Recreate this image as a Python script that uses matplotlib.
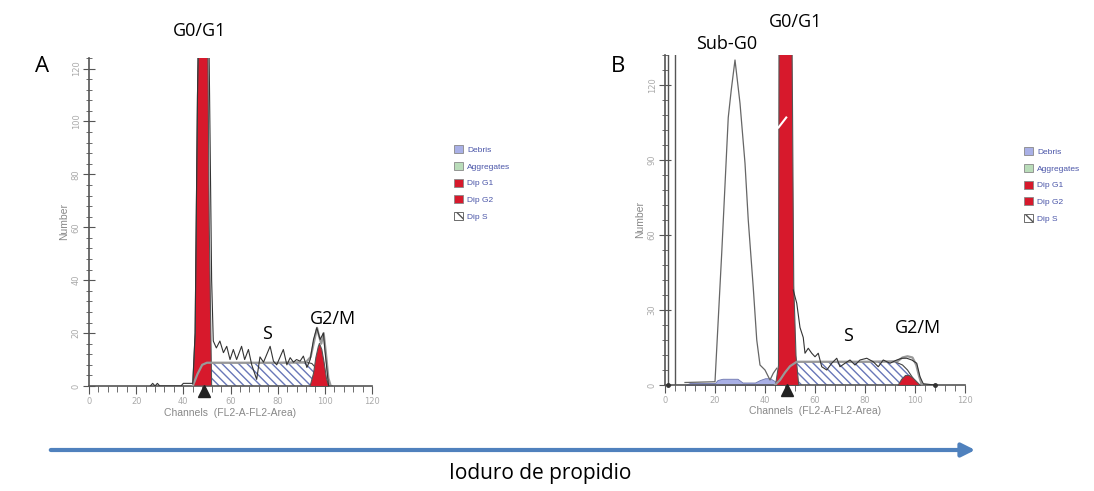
"""Cell-cycle DNA histograms (propidium iodide), panels A and B."""

import matplotlib
matplotlib.use("Agg")
import matplotlib.pyplot as plt
from matplotlib.patches import FancyArrowPatch, Patch
from matplotlib.ticker import MultipleLocator

W, H = 1094, 491

# ---- panel A values (channel, count) ----
a_raw_x = [26, 27, 28, 29, 30, 31, 39, 40, 41, 42, 43, 44, 45, 46, 47, 48, 49, 50, 51, 52,
           52.7, 54, 55.5, 57, 58.4, 59.8, 61.2, 62.6, 64.7, 66, 67.6, 69, 71.1, 72.5, 74,
           76.8, 78.2, 79.6, 82.4, 83.9, 85.3, 86.7, 88, 89.5, 90.9, 92.4, 93.8, 95.2, 96.6,
           98, 99.4, 100, 101.6, 103]
a_raw_y = [0, 1, 0, 1, 0, 0, 0, 1, 1, 1, 1, 1, 20, 110, 170, 200, 210, 190, 120, 40,
           17, 14.4, 17, 12.6, 15, 10, 13.8, 10, 15, 10, 13.8, 8, 2.5, 11, 9,
           15, 9.4, 8, 13.8, 8, 10.7, 9, 10, 9.4, 11.3, 7, 10, 17.6, 22,
           17.6, 20, 13.8, 0, 0]
a_g1_x = [44, 45, 46, 46.6, 48, 48.5, 49, 50.2, 51, 52]
a_g1_y = [0, 20, 110, 140, 200, 210, 200, 150, 60, 0]
a_s_x = [44, 45, 46, 47, 48, 50, 60, 70, 80, 90, 93, 94.5, 96, 98, 100, 101.5]
a_s_y = [0, 2, 4.5, 6.5, 8, 8.8, 8.8, 8.8, 8.8, 8.8, 8.8, 8.5, 7, 4, 1.5, 0]
a_g2_x = [93.5, 95, 96, 97, 97.5, 98.5, 99.5, 100.5, 101.5]
a_g2_y = [0, 5, 11, 15, 16.3, 14, 9, 3, 0]
a_fit_x = [44, 46, 48, 50, 60, 80, 92, 94, 95.5, 96.7, 97.5, 98.5, 99.5, 100.5, 101.5, 102.5]
a_fit_y = [0, 4.5, 8, 8.8, 8.8, 8.8, 9, 11, 17, 22, 19, 16, 20, 12, 3, 0]

# ---- panel B values ----
b_spike_x = [0, 1.3, 1.3, 4, 4, 8]
b_spike_y = [0, 0, 140, 140, 0, 0]
b_sub_x = [8, 20, 22.7, 25.3, 26.5, 28, 30, 32, 33.3, 35.3, 36.7, 38, 40, 42, 43.3, 44.7]
b_sub_y = [1, 1.3, 53, 107, 118, 130, 112.7, 88.7, 66, 39, 18, 8, 6, 2, 4.7, 6.7]
b_raw_x = [51.3, 52.7, 54, 55.3, 56, 57.3, 58.7, 60, 61.3, 62.7, 64.7, 66.7, 68.7, 70, 72, 74,
           76, 78, 80.7, 83.3, 85.3, 87.3, 90, 92.7, 94.7, 96.7, 98.7, 100.7, 102, 103.3, 108]
b_raw_y = [38, 32.7, 23, 19, 12.7, 14.7, 12.7, 11.3, 12.7, 7.3, 6, 8.7, 10.7, 7.3, 8.7, 10,
           8, 10, 10.7, 9.3, 7.3, 10, 8.7, 10, 10.7, 10.7, 10, 8.7, 3.3, 0.5, 0]
b_debris_x = [8, 10, 20, 21, 23, 27, 29, 31, 36, 38, 40, 42, 44, 45]
b_debris_y = [0, 0.8, 0.8, 2, 2.5, 2.5, 2.5, 1, 1, 2, 2.7, 2.7, 1.5, 0]
b_g1_x = [44, 45.2, 45.4, 50.6, 51.3, 52.2, 53.3]
b_g1_y = [0, 8, 140, 140, 40, 12, 0]
b_s_x = [44, 46, 48, 50, 52.7, 60, 80, 92, 95, 97, 99, 100.7]
b_s_y = [0, 2, 5, 7.5, 9.3, 9.3, 9.3, 9.3, 8, 6, 3, 0]
b_g2_x = [93, 94.5, 96, 97.5, 99, 100.5, 102]
b_g2_y = [0, 2.5, 4, 4, 3, 1.5, 0]
b_fit_x = [44, 46, 48, 50, 52.7, 60, 80, 93, 95, 97, 99, 100.5, 101.5, 102.7]
b_fit_y = [0, 2, 5, 7.5, 9.3, 9.3, 9.3, 9.5, 11, 11.5, 11, 8, 4, 0]

g1_mean = 48.7
legend_labels = ["Debris", "Aggregates", "Dip G1", "Dip G2", "Dip S"]

RED = "#d7192c"
DEBRIS = "#a9b0e6"
AGGR = "#b9dcb9"
HATCH = "#6877b8"
AXCOL = "#555555"


def fx(x):
    return x / W


def fy(y):
    return 1 - y / H


def style_axis(ax, ymax, ymajor, yminor):
    ax.set_xlim(0, 120)
    ax.set_ylim(0, ymax)
    for side in ("top", "right"):
        ax.spines[side].set_visible(False)
    for side in ("left", "bottom"):
        ax.spines[side].set_color(AXCOL)
        ax.spines[side].set_linewidth(1.2)
    ax.xaxis.set_major_locator(MultipleLocator(20))
    ax.xaxis.set_minor_locator(MultipleLocator(4))
    ax.yaxis.set_major_locator(MultipleLocator(ymajor))
    ax.yaxis.set_minor_locator(MultipleLocator(yminor))
    ax.tick_params(axis="x", which="both", direction="out", color=AXCOL, labelsize=6,
                   labelcolor="#aaaaaa", pad=2)
    ax.tick_params(axis="x", which="major", length=6)
    ax.tick_params(axis="x", which="minor", length=4)
    ax.tick_params(axis="y", which="both", direction="inout", color=AXCOL, labelsize=6,
                   labelcolor="#aaaaaa", labelrotation=90, pad=2)
    ax.tick_params(axis="y", which="major", length=8)
    ax.tick_params(axis="y", which="minor", length=5)
    for lab in ax.get_yticklabels():
        lab.set_va("center")
    ax.set_xlabel("Channels  (FL2-A-FL2-Area)", fontsize=7.5, color="#888888",
                  family="Liberation Sans", labelpad=1)
    ax.set_ylabel("Number", fontsize=7.5, color="#888888", family="Liberation Sans", labelpad=2)
    ax.patch.set_alpha(0)
    # G1 mean marker sits just under the baseline
    ax.plot([g1_mean], [-ymax * 0.016], marker="^", color="#222222", markersize=8,
            clip_on=False, zorder=6)


def add_legend(fig, x, y):
    handles = [
        Patch(facecolor=DEBRIS, edgecolor="#888888", linewidth=0.6),
        Patch(facecolor=AGGR, edgecolor="#888888", linewidth=0.6),
        Patch(facecolor=RED, edgecolor="#888888", linewidth=0.6),
        Patch(facecolor=RED, edgecolor="#888888", linewidth=0.6),
        Patch(facecolor="white", edgecolor="#555555", hatch="\\\\\\", linewidth=0.6),
    ]
    leg = fig.legend(handles, legend_labels, loc="upper left", bbox_to_anchor=(fx(x), fy(y)),
                     frameon=False, fontsize=6, labelspacing=0.95, handlelength=1.1,
                     handleheight=1.1, handletextpad=0.5, borderpad=0, borderaxespad=0)
    for t in leg.get_texts():
        t.set_color("#4a55a8")
        t.set_family("Liberation Sans")


fig = plt.figure(figsize=(W / 100, H / 100), dpi=100)

# ---------------- panel A ----------------
ax_a = fig.add_axes([fx(89), fy(386), fx(372) - fx(89), fy(58) - fy(386)])
style_axis(ax_a, 124, 20, 4)
ax_a.fill_between(a_s_x, a_s_y, color="none", edgecolor=HATCH, hatch="\\\\\\\\", linewidth=0,
                  zorder=2)
ax_a.plot(a_s_x, a_s_y, color="#444444", lw=0.8, zorder=3)
ax_a.fill_between(a_g1_x, a_g1_y, color=RED, edgecolor="#555555", linewidth=0.8, zorder=3)
ax_a.fill_between(a_g2_x, a_g2_y, color=RED, edgecolor="#555555", linewidth=0.8, zorder=3)
ax_a.plot(a_fit_x, a_fit_y, color="#999999", lw=1.6, zorder=4)
ax_a.plot(a_raw_x, a_raw_y, color="#333333", lw=0.8, zorder=5)

# ---------------- panel B ----------------
ax_b = fig.add_axes([fx(665), fy(385), fx(965) - fx(665), fy(55) - fy(385)])
style_axis(ax_b, 132, 30, 6)
ax_b.fill_between(b_debris_x, b_debris_y, color=DEBRIS, edgecolor="#6f78b0", linewidth=0.6,
                  zorder=2)
ax_b.fill_between(b_s_x, b_s_y, color="none", edgecolor=HATCH, hatch="\\\\\\\\", linewidth=0,
                  zorder=2)
ax_b.plot(b_s_x, b_s_y, color="#444444", lw=0.8, zorder=3)
ax_b.fill_between(b_g1_x, b_g1_y, color=RED, edgecolor="#555555", linewidth=0.8, zorder=3)
ax_b.fill_between(b_g2_x, b_g2_y, color=RED, edgecolor="#555555", linewidth=0.8, zorder=3)
ax_b.plot(b_fit_x, b_fit_y, color="#999999", lw=1.6, zorder=4)
ax_b.plot(b_spike_x, b_spike_y, color="#555555", lw=1.0, zorder=5)
ax_b.plot(b_sub_x, b_sub_y, color="#666666", lw=0.9, zorder=5)
ax_b.plot(b_raw_x, b_raw_y, color="#333333", lw=0.8, zorder=5)
ax_b.plot([1, 108], [0, 0], "o", color="#333333", markersize=2.5, clip_on=False, zorder=6)
ax_b.plot([45.4, 48.5], [103, 107], color="white", lw=1.5, zorder=6)

add_legend(fig, 454, 145)
add_legend(fig, 1024, 147)

# ---------------- annotations ----------------
ann = dict(family="Open Sans", color="black", ha="center", va="center")
fig.text(fx(42), fy(67), "A", fontsize=16, **ann)
fig.text(fx(200), fy(31), "G0/G1", fontsize=13, **ann)
fig.text(fx(267), fy(334), "S", fontsize=13, **ann)
fig.text(fx(333), fy(319), "G2/M", fontsize=13, **ann)
fig.text(fx(618), fy(66), "B", fontsize=16, **ann)
fig.text(fx(727), fy(44), "Sub-G0", fontsize=13, **ann)
fig.text(fx(796), fy(22), "G0/G1", fontsize=13, **ann)
fig.text(fx(848), fy(336), "S", fontsize=13, **ann)
fig.text(fx(918), fy(328), "G2/M", fontsize=13, **ann)
fig.text(fx(540), fy(474), "Ioduro de propidio", fontsize=15, **ann)

arrow = FancyArrowPatch((fx(48), fy(450)), (fx(978), fy(450)), transform=fig.transFigure,
                        arrowstyle="-|>", mutation_scale=20, color="#4f81bd", lw=3)
fig.add_artist(arrow)

fig.savefig("out.png", dpi=100)
